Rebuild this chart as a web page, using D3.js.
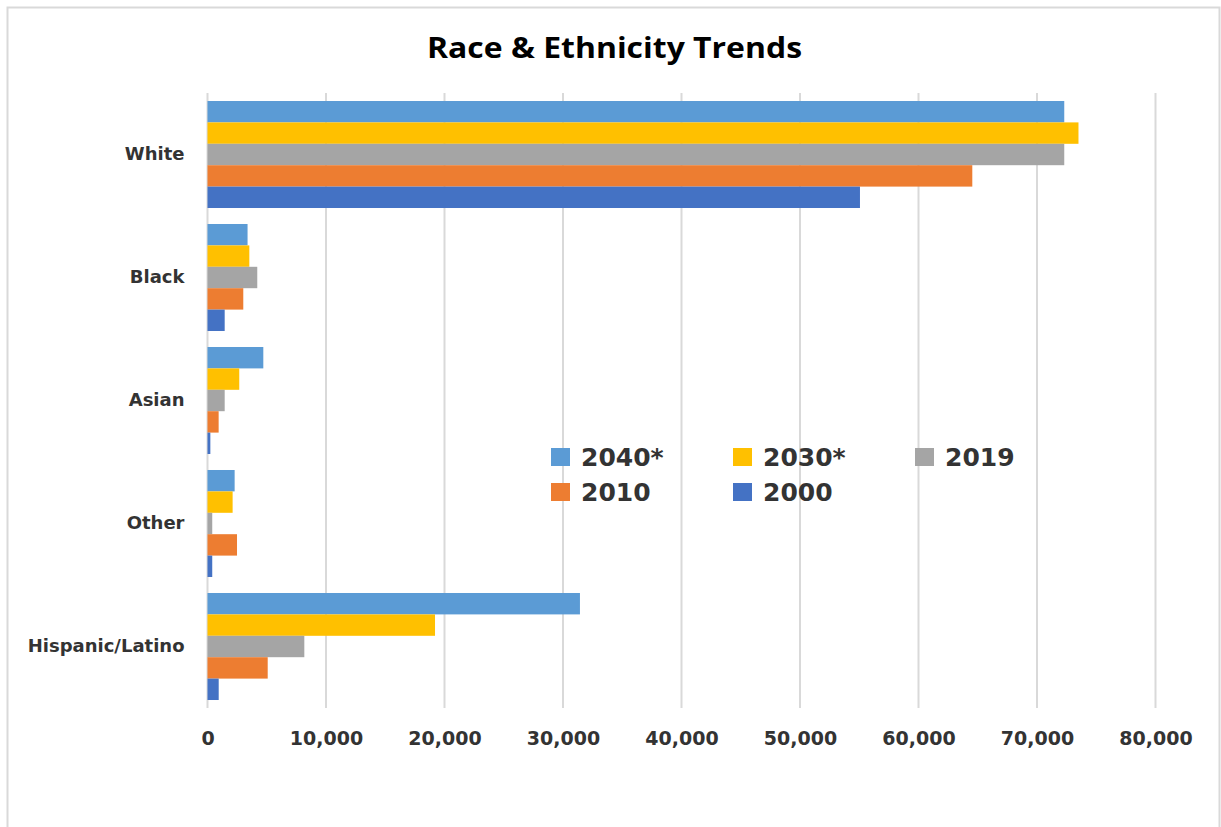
<!DOCTYPE html>
<html><head><meta charset="utf-8">
<script src="https://cdn.jsdelivr.net/npm/d3@7"></script>
<style>html,body{margin:0;padding:0;background:#fff;}</style>
</head><body>
<svg id="c" width="1221" height="827"></svg>
<script>
const categories = ["White","Black","Asian","Other","Hispanic/Latino"];
const seriesNames = ["2040*","2030*","2019","2010","2000"];
const colors = ["#5B9BD5","#FFC000","#A5A5A5","#ED7D31","#4472C4"];
const v2040 = [72300, 3380, 4710, 2290, 31430];
const v2030 = [73500, 3530, 2680, 2120, 19200];
const v2019 = [72300, 4200, 1450, 400, 8170];
const v2010 = [64540, 3020, 940, 2490, 5080];
const v2000 = [55060, 1450, 240, 400, 945];
const seriesValues = [v2040, v2030, v2019, v2010, v2000];
const xTicks = [0,10000,20000,30000,40000,50000,60000,70000,80000];

(function(){
const svg = d3.select("#c");
svg.append("rect").attr("x",7.5).attr("y",7.5).attr("width",1212).attr("height",830)
  .attr("fill","#fff").attr("stroke","#d9d9d9").attr("stroke-width",2);

const pl = 207.5, pr = 1155.5, pt = 93, pb = 708;
const x = d3.scaleLinear().domain([0,80000]).range([pl,pr]);
const y = d3.scaleBand().domain(categories).range([pt,pb]).paddingInner(0.13).paddingOuter(0.065);
const ys = d3.scaleBand().domain(seriesNames).range([0,y.bandwidth()]);

svg.append("g").selectAll("line").data(xTicks).join("line")
  .attr("x1",d=>x(d)).attr("x2",d=>x(d)).attr("y1",pt).attr("y2",pb)
  .attr("stroke","#d9d9d9").attr("stroke-width",2);

categories.forEach((cat,ci)=>{
  seriesNames.forEach((s,si)=>{
    svg.append("rect")
      .attr("x",x(0)).attr("y",y(cat)+ys(s))
      .attr("width",x(seriesValues[si][ci])-x(0)).attr("height",ys.bandwidth())
      .attr("fill",colors[si]);
  });
});

const xa = d3.axisBottom(x).tickValues(xTicks).tickFormat(d3.format(",")).tickSize(0).tickPadding(24);
const gx = svg.append("g").attr("transform",`translate(0,${pb})`).call(xa);
gx.select(".domain").remove();
gx.selectAll("text").attr("font-family","DejaVu Sans").attr("font-weight","bold")
  .attr("font-size",19).attr("fill","#333");

const ya = d3.axisLeft(y).tickSize(0).tickPadding(23);
const gy = svg.append("g").attr("transform",`translate(${pl},0)`).call(ya);
gy.select(".domain").remove();
gy.selectAll("text").attr("font-family","DejaVu Sans").attr("font-weight","bold")
  .attr("font-size",18).attr("fill","#333");

svg.append("text").attr("x",614.5).attr("y",57.5).attr("text-anchor","middle")
  .attr("font-family","Open Sans").attr("font-weight","bold").attr("font-size",29)
  .attr("textLength",375).attr("lengthAdjust","spacingAndGlyphs")
  .attr("fill","#000").text("Race & Ethnicity Trends");

const legPos = [[551,457],[733,457],[915,457],[551,492],[733,492]];
seriesNames.forEach((s,i)=>{
  const [lx,ly] = legPos[i];
  svg.append("rect").attr("x",lx).attr("y",ly-9).attr("width",19).attr("height",18).attr("fill",colors[i]);
  svg.append("text").attr("x",lx+30).attr("y",ly).attr("dy","0.36em")
    .attr("font-family","DejaVu Sans").attr("font-weight","bold").attr("font-size",25)
    .attr("fill","#333").text(s);
});
})();
</script>
</body></html>
